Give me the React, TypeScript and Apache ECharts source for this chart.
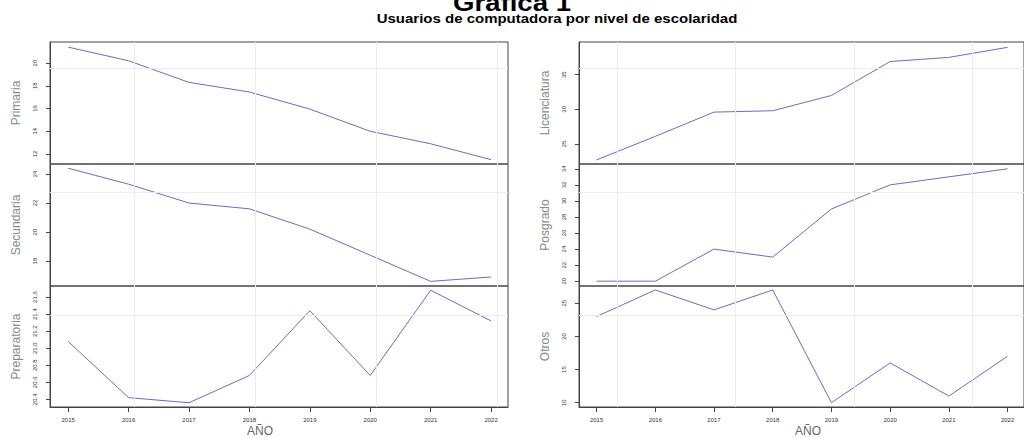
import React, { useEffect, useRef } from "react";
import * as echarts from "echarts";

// Years on the horizontal axis of every panel
const years = [2015, 2016, 2017, 2018, 2019, 2020, 2021, 2022];

// Share of computer users by schooling level
const primaria = [21.4, 20.2, 18.3, 17.45, 15.95, 14.0, 12.9, 11.5];
const secundaria = [24.4, 23.3, 22.0, 21.6, 20.2, 18.4, 16.6, 16.9];
const preparatoria = [21.08, 20.42, 20.36, 20.68, 21.44, 20.68, 21.68, 21.32];
const licenciatura = [22.7, 26.1, 29.6, 29.8, 32.0, 36.9, 37.5, 38.95];
const posgrado = [20, 20, 24, 23, 29, 32, 33, 34];
const otros = [23, 27, 24, 27, 10, 16, 11, 17];

// Tick labels of each panel's vertical axis
const primariaTicks = [12, 14, 16, 18, 20];
const secundariaTicks = [18, 20, 22, 24];
const preparatoriaTicks = [20.4, 20.6, 20.8, 21.0, 21.2, 21.4, 21.6];
const licenciaturaTicks = [25, 30, 35];
const posgradoTicks = [20, 22, 24, 26, 28, 30, 32, 34];
const otrosTicks = [10, 15, 20, 25];

// Vertical axis extents
const primariaRange = [11.12, 21.85];
const secundariaRange = [16.28, 24.69];
const preparatoriaRange = [20.31, 21.73];
const licenciaturaRange = [22.11, 39.72];
const posgradoRange = [19.4, 34.6];
const otrosRange = [9.35, 27.6];

// Faint background reference lines
const leftGuideYears = [2016.1, 2018.1, 2020.1, 2022.1];
const rightGuideYears = [2015.36, 2017.37, 2019.39, 2021.39];
const guideLevels = [19.56, 22.76, 21.39, 35.97, 31.1, 23.2];

const FONT = "Liberation Sans, Arial, Helvetica, sans-serif";
const LINE_COLOR = "#6b6bc9";

type Panel = {
  name: string;
  data: number[];
  ticks: number[];
  range: number[];
  decimals: number;
  col: number;
  row: number;
};

const panels: Panel[] = [
  { name: "Primaria", data: primaria, ticks: primariaTicks, range: primariaRange, decimals: 0, col: 0, row: 0 },
  { name: "Secundaria", data: secundaria, ticks: secundariaTicks, range: secundariaRange, decimals: 0, col: 0, row: 1 },
  { name: "Preparatoria", data: preparatoria, ticks: preparatoriaTicks, range: preparatoriaRange, decimals: 1, col: 0, row: 2 },
  { name: "Licenciatura", data: licenciatura, ticks: licenciaturaTicks, range: licenciaturaRange, decimals: 0, col: 1, row: 0 },
  { name: "Posgrado", data: posgrado, ticks: posgradoTicks, range: posgradoRange, decimals: 0, col: 1, row: 1 },
  { name: "Otros", data: otros, ticks: otrosTicks, range: otrosRange, decimals: 0, col: 1, row: 2 },
];

const colLeft = [50, 579];
const rowTop = [42, 164, 286];
const rowHeight = [122, 122, 121];
const panelWidth = 458;

export default function App() {
  const ref = useRef<HTMLDivElement>(null);

  useEffect(() => {
    if (!ref.current) return;
    const chart = echarts.init(ref.current, undefined, { renderer: "svg" });

    const grids = panels.map((p) => ({
      left: colLeft[p.col],
      top: rowTop[p.row],
      width: panelWidth,
      height: rowHeight[p.row],
      show: true,
      borderColor: "#444",
      borderWidth: 1,
      backgroundColor: "transparent",
    }));

    const xAxes = panels.map((p, i) => {
      const bottom = p.row === 2;
      return {
        type: "value",
        gridIndex: i,
        min: 2014.7,
        max: 2022.28,
        axisLine: { show: bottom, lineStyle: { color: "#444", width: 1 } },
        axisTick: {
          show: bottom,
          length: 5,
          customValues: years,
          lineStyle: { color: "#444" },
        },
        axisLabel: {
          show: bottom,
          customValues: years,
          fontSize: 6,
          color: "#333",
          fontFamily: FONT,
          margin: 10,
          formatter: (v: number) => String(Math.round(v)),
        },
        splitLine: { show: false },
      };
    });

    const yAxes = panels.map((p, i) => ({
      type: "value",
      gridIndex: i,
      min: p.range[0],
      max: p.range[1],
      axisLine: { show: true, lineStyle: { color: "#444", width: 1 } },
      axisTick: {
        show: true,
        length: 4,
        customValues: p.ticks,
        lineStyle: { color: "#444" },
      },
      axisLabel: {
        customValues: p.ticks,
        rotate: 90,
        fontSize: 6,
        color: "#333",
        fontFamily: FONT,
        margin: 12,
        formatter: (v: number) => v.toFixed(p.decimals),
      },
      splitLine: { show: false },
      name: p.name,
      nameLocation: "middle",
      nameRotate: 90,
      nameGap: 28,
      nameTextStyle: { color: "#888", fontSize: 12, fontFamily: FONT },
    }));

    const series = panels.map((p, i) => ({
      type: "line",
      xAxisIndex: i,
      yAxisIndex: i,
      data: years.map((y, k) => [y, p.data[k]]),
      showSymbol: false,
      symbol: "none",
      lineStyle: { color: LINE_COLOR, width: 1 },
      silent: true,
      markLine: {
        silent: true,
        symbol: "none",
        label: { show: false },
        lineStyle: { color: "#ececec", width: 1, type: "solid" },
        data: [
          ...(p.col === 0 ? leftGuideYears : rightGuideYears).map((x) => ({ xAxis: x })),
          { yAxis: guideLevels[i] },
        ],
      },
    }));

    chart.setOption({
      animation: false,
      backgroundColor: "#ffffff",
      grid: grids,
      xAxis: xAxes,
      yAxis: yAxes,
      series,
      graphic: [
        {
          type: "text",
          x: 512,
          y: 2.5,
          scaleX: 1.15,
          style: {
            text: "Gráfica 1",
            fontSize: 24,
            lineHeight: 20,
            fontWeight: "bold",
            fontFamily: FONT,
            fill: "#000",
            align: "center",
            verticalAlign: "middle",
          },
        },
        {
          type: "text",
          x: 557,
          y: 18.5,
          scaleX: 1.2,
          style: {
            text: "Usuarios de computadora por nivel de escolaridad",
            fontSize: 12.5,
            lineHeight: 10,
            fontWeight: "bold",
            fontFamily: FONT,
            fill: "#000",
            align: "center",
            verticalAlign: "middle",
          },
        },
        {
          type: "text",
          x: 260,
          y: 431,
          style: {
            text: "AÑO",
            fontSize: 12,
            lineHeight: 12,
            fontFamily: FONT,
            fill: "#666",
            align: "center",
            verticalAlign: "middle",
          },
        },
        {
          type: "text",
          x: 808,
          y: 431,
          style: {
            text: "AÑO",
            fontSize: 12,
            lineHeight: 12,
            fontFamily: FONT,
            fill: "#666",
            align: "center",
            verticalAlign: "middle",
          },
        },
      ],
    });

    return () => chart.dispose();
  }, []);

  return (
    <div
      ref={ref}
      style={{ position: "fixed", left: 0, top: 0, width: 1024, height: 438, background: "#fff" }}
    />
  );
}
